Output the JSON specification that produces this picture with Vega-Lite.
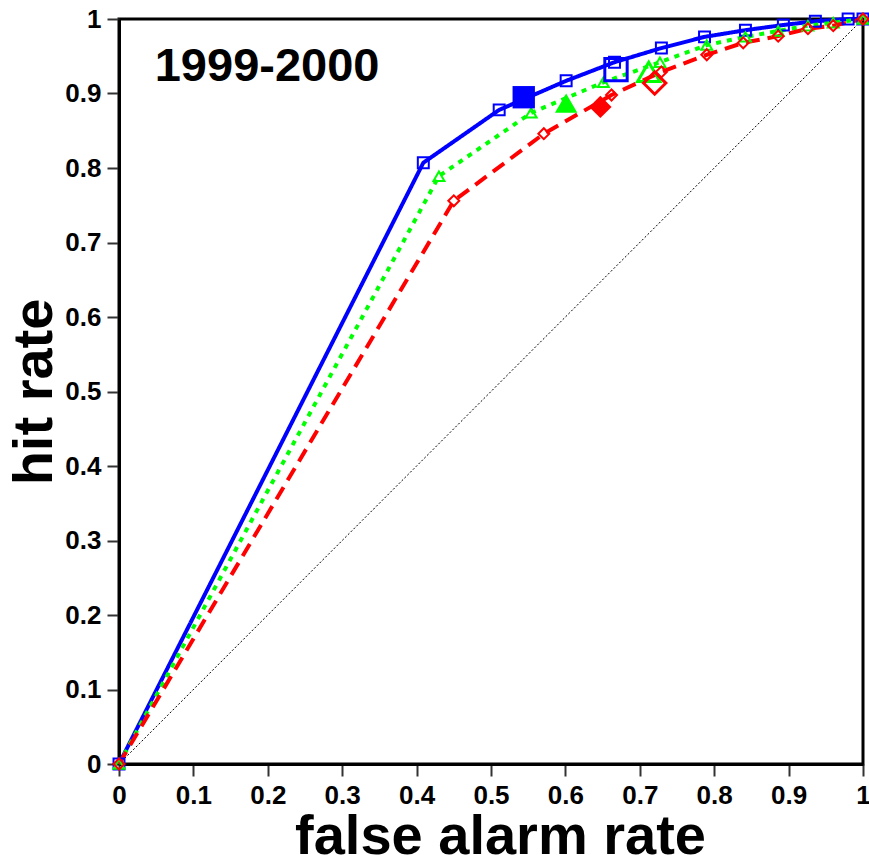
{
  "$schema": "https://vega.github.io/schema/vega-lite/v6.json",
  "autosize": {"type": "none"},
  "width": 744,
  "height": 745,
  "padding": {"left": 119, "top": 19, "right": 6, "bottom": 91},
  "background": "white",
  "config": {
    "view": {"stroke": "black", "strokeWidth": 3},
    "font": "Liberation Sans",
    "axis": {
      "domainColor": "black", "domainWidth": 3,
      "tickColor": "#333333", "tickWidth": 2, "tickSize": 12,
      "labelFont": "Liberation Sans", "labelFontWeight": "bold", "labelFontSize": 26, "labelColor": "black",
      "titleFont": "Liberation Sans", "titleFontWeight": "bold", "titleFontSize": 56, "titleColor": "black",
      "grid": false, "labelPadding": 6, "labelFlush": false, "labelOverlap": false
    }
  },
  "datasets": {
    "curves": [
      {"series": "blue", "x": 0, "y": 0},
      {"series": "blue", "x": 0.409, "y": 0.807},
      {"series": "blue", "x": 0.511, "y": 0.878},
      {"series": "blue", "x": 0.601, "y": 0.917},
      {"series": "blue", "x": 0.666, "y": 0.942},
      {"series": "blue", "x": 0.729, "y": 0.961},
      {"series": "blue", "x": 0.787, "y": 0.976},
      {"series": "blue", "x": 0.842, "y": 0.985},
      {"series": "blue", "x": 0.893, "y": 0.992},
      {"series": "blue", "x": 0.936, "y": 0.997},
      {"series": "blue", "x": 0.98, "y": 1.0},
      {"series": "blue", "x": 1, "y": 1},
      {"series": "green", "x": 0, "y": 0},
      {"series": "green", "x": 0.43, "y": 0.789},
      {"series": "green", "x": 0.554, "y": 0.874},
      {"series": "green", "x": 0.651, "y": 0.915},
      {"series": "green", "x": 0.727, "y": 0.942},
      {"series": "green", "x": 0.79, "y": 0.965},
      {"series": "green", "x": 0.842, "y": 0.976},
      {"series": "green", "x": 0.886, "y": 0.984},
      {"series": "green", "x": 0.926, "y": 0.991},
      {"series": "green", "x": 0.96, "y": 0.995},
      {"series": "green", "x": 1, "y": 1},
      {"series": "red", "x": 0, "y": 0},
      {"series": "red", "x": 0.45, "y": 0.756},
      {"series": "red", "x": 0.571, "y": 0.846},
      {"series": "red", "x": 0.662, "y": 0.898},
      {"series": "red", "x": 0.729, "y": 0.929},
      {"series": "red", "x": 0.79, "y": 0.952},
      {"series": "red", "x": 0.839, "y": 0.968},
      {"series": "red", "x": 0.886, "y": 0.977},
      {"series": "red", "x": 0.926, "y": 0.987},
      {"series": "red", "x": 0.96, "y": 0.991},
      {"series": "red", "x": 1, "y": 1}
    ],
    "big": [
      {"series": "blue", "kind": "filled", "x": 0.544, "y": 0.895},
      {"series": "blue", "kind": "open", "x": 0.668, "y": 0.932},
      {"series": "green", "kind": "filled", "x": 0.601, "y": 0.887},
      {"series": "green", "kind": "open", "x": 0.712, "y": 0.929},
      {"series": "red", "kind": "filled", "x": 0.647, "y": 0.882},
      {"series": "red", "kind": "open", "x": 0.72, "y": 0.914}
    ],
    "diag": [
      {"x": 0, "y": 0},
      {"x": 1, "y": 1}
    ],
    "label": [
      {"x": 0.048, "y": 0.936, "text": "1999-2000"}
    ]
  },
  "layer": [
    {
      "data": {"name": "diag"},
      "mark": {"type": "line", "color": "black", "strokeWidth": 1, "strokeDash": [2, 2]},
      "encoding": {
        "x": {"field": "x", "type": "quantitative", "scale": {"domain": [0, 1], "nice": false},
          "axis": {"values": [0, 0.1, 0.2, 0.3, 0.4, 0.5, 0.6, 0.7, 0.8, 0.9, 1], "format": "~g", "title": "false alarm rate", "titlePadding": 1, "titleX": 381}},
        "y": {"field": "y", "type": "quantitative", "scale": {"domain": [0, 1], "nice": false},
          "axis": {"values": [0, 0.1, 0.2, 0.3, 0.4, 0.5, 0.6, 0.7, 0.8, 0.9, 1], "format": "~g", "title": "hit rate", "titlePadding": 1}}
      }
    },
    {
      "data": {"name": "curves"},
      "mark": {"type": "line", "strokeWidth": 4},
      "encoding": {
        "x": {"field": "x", "type": "quantitative"},
        "y": {"field": "y", "type": "quantitative"},
        "color": {"field": "series", "type": "nominal", "scale": {"domain": ["blue", "green", "red"], "range": ["#0000ff", "#00ff00", "#ff0000"]}, "legend": null},
        "strokeDash": {"field": "series", "type": "nominal", "scale": {"domain": ["blue", "green", "red"], "range": [[1, 0], [5, 6], [14, 8]]}, "legend": null}
      }
    },
    {
      "data": {"name": "curves"},
      "mark": {"type": "point", "filled": false, "strokeWidth": 2, "opacity": 1},
      "encoding": {
        "x": {"field": "x", "type": "quantitative"},
        "y": {"field": "y", "type": "quantitative"},
        "color": {"field": "series", "type": "nominal", "legend": null},
        "shape": {"field": "series", "type": "nominal", "scale": {"domain": ["blue", "green", "red"], "range": ["square", "triangle-up", "diamond"]}, "legend": null},
        "size": {"value": 120}
      }
    },
    {
      "data": {"name": "big"},
      "transform": [{"filter": "datum.kind === 'open'"}],
      "mark": {"type": "point", "filled": false, "strokeWidth": 3, "opacity": 1},
      "encoding": {
        "x": {"field": "x", "type": "quantitative"},
        "y": {"field": "y", "type": "quantitative"},
        "color": {"field": "series", "type": "nominal", "legend": null},
        "shape": {"field": "series", "type": "nominal", "legend": null},
        "size": {"value": 500}
      }
    },
    {
      "data": {"name": "big"},
      "transform": [{"filter": "datum.kind === 'filled'"}],
      "mark": {"type": "point", "filled": true, "opacity": 1},
      "encoding": {
        "x": {"field": "x", "type": "quantitative"},
        "y": {"field": "y", "type": "quantitative"},
        "color": {"field": "series", "type": "nominal", "legend": null},
        "shape": {"field": "series", "type": "nominal", "legend": null},
        "size": {"value": 500}
      }
    },
    {
      "data": {"name": "label"},
      "mark": {"type": "text", "align": "left", "baseline": "middle", "font": "Liberation Sans", "fontWeight": "bold", "fontSize": 47, "color": "black"},
      "encoding": {
        "x": {"field": "x", "type": "quantitative"},
        "y": {"field": "y", "type": "quantitative"},
        "text": {"field": "text"}
      }
    }
  ]
}
